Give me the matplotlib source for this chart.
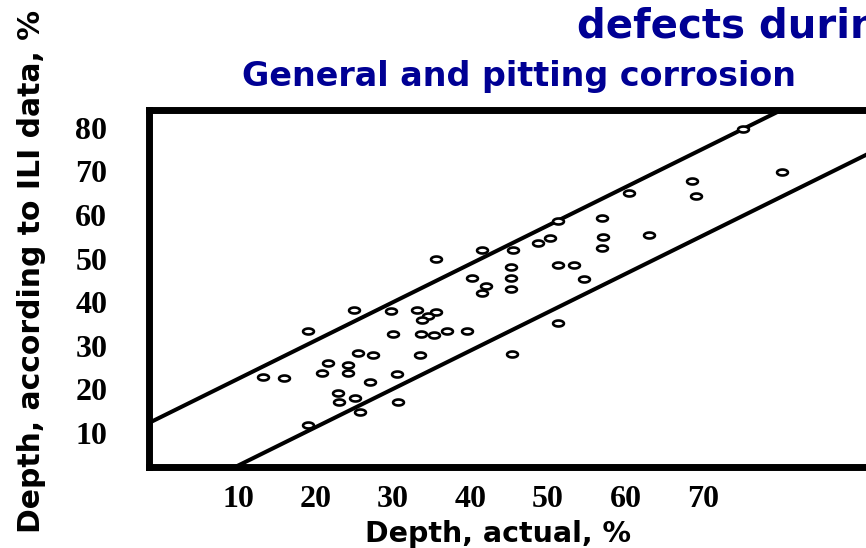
import numpy as np
import matplotlib.pyplot as plt
from matplotlib.path import Path

# in-line inspection results, % of wall thickness
depth_actual = [35.5, 41.5, 40.2, 42.0, 41.5, 25.0, 29.8, 33.1, 35.6, 34.5,
                33.7, 19.0, 30.0, 33.6, 35.3, 37.0, 39.6, 25.5, 27.4, 33.5,
                21.6, 24.2, 20.9, 24.2, 30.5, 13.2, 15.9, 27.0, 22.9, 25.1,
                23.1, 30.7, 25.7, 19.0,
                75.2, 80.2, 68.6, 69.1, 60.5, 51.3, 57.0, 57.1, 57.0, 63.0,
                50.3, 48.7, 45.5, 45.2, 45.2, 45.2, 51.3, 53.3, 54.6, 51.3,
                45.4]
depth_ili = [49.9, 51.9, 45.5, 43.8, 42.1, 38.2, 37.9, 38.1, 37.8, 36.9,
             35.9, 33.3, 32.7, 32.7, 32.5, 33.4, 33.4, 28.4, 27.9, 27.8,
             26.0, 25.6, 23.7, 23.7, 23.6, 22.8, 22.6, 21.6, 19.1, 18.1,
             17.1, 17.2, 14.9, 11.8,
             79.8, 69.8, 67.7, 64.4, 65.0, 58.7, 59.3, 55.0, 52.5, 55.5,
             54.7, 53.6, 51.9, 48.0, 45.5, 43.1, 48.6, 48.6, 45.4, 35.3,
             28.1]

x_ticks = [10, 20, 30, 40, 50, 60, 70]
y_ticks = [10, 20, 30, 40, 50, 60, 70, 80]

# tolerance band: ili = slope * actual + offset
band_slope = 0.88
band_upper = 13.6
band_lower = -6.3

navy = "#000094"

# small open ellipse used for every point
t = np.linspace(0, 2 * np.pi, 60)
ellipse = Path(np.column_stack([np.cos(t), 0.55 * np.sin(t)]), closed=True)

fig = plt.figure(figsize=(8.66, 5.48), dpi=100)
ax = fig.add_axes([0.172, 0.1487, 0.8672, 0.6506])

ax.set_xlim(-1.48, 95.4)
ax.set_ylim(2.3, 84.1)

xs = np.array(ax.get_xlim())
ax.plot(xs, band_slope * xs + band_upper, color="black", lw=2.9)
ax.plot(xs, band_slope * xs + band_lower, color="black", lw=2.9)

ax.plot(depth_actual, depth_ili, linestyle="none", marker=ellipse,
        markersize=7.8, markerfacecolor="white", markeredgecolor="black",
        markeredgewidth=1.9, zorder=3)

for side in ax.spines.values():
    side.set_linewidth(5)
    side.set_color("black")

ax.set_xticks(x_ticks)
ax.set_yticks(y_ticks)
ax.tick_params(axis="both", length=0)
ax.tick_params(axis="x", pad=13)
ax.tick_params(axis="y", pad=30)
for lbl in ax.get_xticklabels() + ax.get_yticklabels():
    lbl.set_family("Liberation Serif")
    lbl.set_fontweight("bold")
    lbl.set_fontsize(23)

ax.set_xlabel("Depth, actual, %", family="DejaVu Sans",
              fontweight="bold", fontsize=20.5, va="baseline")
ax.xaxis.set_label_coords(0.465, -0.212)
fig.text(0.036, 0.505, "Depth, according to ILI data, %", rotation=90,
         ha="center", va="center", family="DejaVu Sans",
         fontweight="bold", fontsize=21.5)

# slide heading runs past the right edge
fig.text(0.666, 0.931, "defects during", ha="left", va="baseline",
         family="DejaVu Sans", fontweight="bold",
         fontsize=29, color=navy)
fig.text(0.28, 0.843, "General and pitting corrosion", ha="left",
         va="baseline", family="DejaVu Sans", fontweight="bold",
         fontsize=24, color=navy)

fig.savefig("out.png", dpi=100)
